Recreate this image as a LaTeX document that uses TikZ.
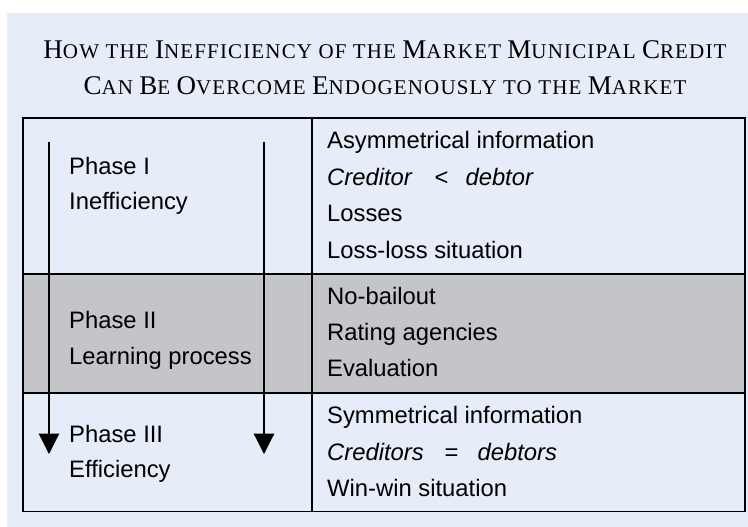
\documentclass[tikz,border=0pt]{standalone}
\usepackage{fontspec}
\setmainfont{Liberation Sans}
\newfontfamily\titlefont[LetterSpace=5.5]{Liberation Serif}
\usetikzlibrary{arrows.meta}

\definecolor{bgblue}{RGB}{230,236,248}
\definecolor{rowgray}{RGB}{196,197,201}
% 偽スモールキャップス用の大文字
\newcommand{\capbig}[1]{{\fontsize{27}{27}\selectfont #1}}

\begin{document}
\begin{tikzpicture}[
    x=1pt, y=-1pt, % 画像の画素と同じ向き
    >={Triangle[width=20.5pt,length=20.5pt]}, % 矢印のスタイル
    cell/.style={anchor=base west, inner sep=0pt, font=\fontsize{23.8}{23.8}\selectfont},
    titleline/.style={anchor=base, inner sep=0pt, font=\titlefont\fontsize{21}{21}\selectfont},
    tableline/.style={line width=1.5pt},
    ]

    \useasboundingbox (0,0) rectangle (748,527);

    % --- 背景 ---
    \fill[bgblue] (7,13) rectangle (748,527);

    % --- 題名 ---
    \node[titleline] (title1) at (385,59) {\capbig{H}OW THE \capbig{I}NEFFICIENCY OF THE \capbig{M}ARKET \capbig{M}UNICIPAL \capbig{C}REDIT};
    \node[titleline] (title2) at (385,94.3) {\capbig{C}AN \capbig{B}E \capbig{O}VERCOME \capbig{E}NDOGENOUSLY TO THE \capbig{M}ARKET};

    % --- 表 ---
    % 第II段だけ灰色
    \fill[rowgray] (23,274) rectangle (745,393);
    \draw[tableline] (23,118) rectangle (745,511.5);
    \draw[tableline] (312,118) -- (312,511.5);
    \draw[tableline] (23,274) -- (745,274);
    \draw[tableline] (23,393) -- (745,393);

    % --- 矢印 ---
    \coordinate (leftstart) at (49,142);
    \coordinate (leftend) at (49,454);
    \coordinate (rightstart) at (264,142);
    \coordinate (rightend) at (264,454);
    \draw[->, line width=1.2pt] (leftstart) -- (leftend);
    \draw[->, line width=1.2pt] (rightstart) -- (rightend);

    % --- 左の列 ---
    \node[cell] (phaseI) at (69,175) {Phase I};
    \node[cell] (phaseIname) at (69,209.5) {Inefficiency};
    \node[cell] (phaseII) at (69,328.3) {Phase II};
    \node[cell] (phaseIIname) at (69,364.3) {Learning process};
    \node[cell] (phaseIII) at (69,442.3) {Phase III};
    \node[cell] (phaseIIIname) at (69,477.7) {Efficiency};

    % --- 右の列 ---
    \foreach \t [count=\i] in {Asymmetrical information,
        {\textit{Creditor}\hspace{22pt}<\hspace{17pt}\textit{debtor}},
        Losses, Loss-loss situation}
        \node[cell] (itemI-\i) at (327,{148.3+36.7*(\i-1)}) {\t};
    \foreach \t [count=\i] in {No-bailout, Rating agencies, Evaluation}
        \node[cell] (itemII-\i) at (327,{304.3+35.9*(\i-1)}) {\t};
    \foreach \t [count=\i] in {Symmetrical information,
        {\textit{Creditors}\hspace{21pt}=\hspace{19pt}\textit{debtors}},
        Win-win situation}
        \node[cell] (itemIII-\i) at (327,{423.3+36.7*(\i-1)}) {\t};

\end{tikzpicture}
\end{document}
